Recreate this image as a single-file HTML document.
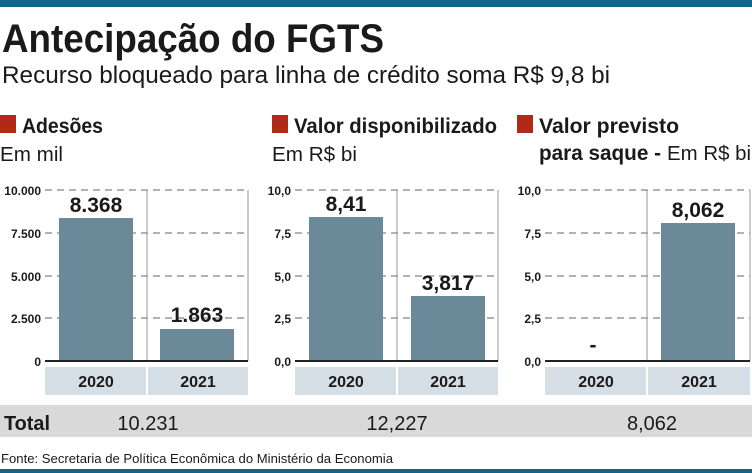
<!DOCTYPE html>
<html><head><meta charset="utf-8"><style>
html,body{margin:0;padding:0;background:#fff}
svg{display:block}
text{font-family:"Liberation Sans",sans-serif;fill:#1a1a1a}
.b{font-weight:bold}
</style></head><body>
<svg width="752" height="473" viewBox="0 0 752 473">
<rect x="0" y="0" width="752" height="7" fill="#0e6590"/>
<text x="2" y="52" class="b" font-size="40" textLength="382" lengthAdjust="spacingAndGlyphs">Antecipação do FGTS</text>
<text x="2" y="83" font-size="24" textLength="608" lengthAdjust="spacingAndGlyphs">Recurso bloqueado para linha de crédito soma R$ 9,8 bi</text>

<rect x="0" y="115" width="16" height="18" fill="#b02a17"/>
<text x="22" y="133" class="b" font-size="21" textLength="81" lengthAdjust="spacingAndGlyphs">Adesões</text>
<text x="0" y="161" font-size="20" textLength="63" lengthAdjust="spacingAndGlyphs">Em mil</text>
<rect x="272" y="115" width="16" height="18" fill="#b02a17"/>
<text x="294" y="133" class="b" font-size="21" textLength="203" lengthAdjust="spacingAndGlyphs">Valor disponibilizado</text>
<text x="272" y="161" font-size="20" textLength="85" lengthAdjust="spacingAndGlyphs">Em R$ bi</text>
<rect x="517" y="115" width="16" height="18" fill="#b02a17"/>
<text x="539" y="133" class="b" font-size="21" textLength="140" lengthAdjust="spacingAndGlyphs">Valor previsto</text>
<text x="539" y="160" class="b" font-size="21" textLength="122" lengthAdjust="spacingAndGlyphs">para saque -</text>
<text x="667" y="160" font-size="20" textLength="84" lengthAdjust="spacingAndGlyphs">Em R$ bi</text>

<g stroke="#999" stroke-width="1.5" stroke-dasharray="7,5" fill="none">
<line x1="45" y1="190" x2="248" y2="190"/><line x1="45" y1="233" x2="248" y2="233"/><line x1="45" y1="276" x2="248" y2="276"/><line x1="45" y1="318" x2="248" y2="318"/>
<line x1="295" y1="190" x2="498" y2="190"/><line x1="295" y1="233" x2="498" y2="233"/><line x1="295" y1="276" x2="498" y2="276"/><line x1="295" y1="318" x2="498" y2="318"/>
<line x1="545" y1="190" x2="750" y2="190"/><line x1="545" y1="233" x2="750" y2="233"/><line x1="545" y1="276" x2="750" y2="276"/><line x1="545" y1="318" x2="750" y2="318"/>
</g>
<g stroke="#999" stroke-width="1">
<line x1="147" y1="190" x2="147" y2="361"/><line x1="248" y1="190" x2="248" y2="361"/>
<line x1="397" y1="190" x2="397" y2="361"/><line x1="498" y1="190" x2="498" y2="361"/>
<line x1="647" y1="190" x2="647" y2="361"/><line x1="750" y1="190" x2="750" y2="361"/>
</g>
<g fill="#6b8a99">
<rect x="59" y="218" width="74" height="143"/><rect x="160" y="329" width="74" height="32"/>
<rect x="309" y="217" width="74" height="144"/><rect x="411" y="296" width="74" height="65"/>
<rect x="661" y="223" width="74" height="138"/>
</g>
<g stroke="#222" stroke-width="2">
<line x1="45" y1="361" x2="248" y2="361"/><line x1="295" y1="361" x2="498" y2="361"/><line x1="545" y1="361" x2="750" y2="361"/>
</g>
<g font-size="12" class="b" text-anchor="end">
<text x="41" y="195">10.000</text><text x="41" y="238">7.500</text><text x="41" y="281">5.000</text><text x="41" y="323">2.500</text><text x="41" y="366">0</text>
<text x="291" y="195">10,0</text><text x="291" y="238">7,5</text><text x="291" y="281">5,0</text><text x="291" y="323">2,5</text><text x="291" y="366">0,0</text>
<text x="541" y="195">10,0</text><text x="541" y="238">7,5</text><text x="541" y="281">5,0</text><text x="541" y="323">2,5</text><text x="541" y="366">0,0</text>
</g>
<g font-size="21" class="b" text-anchor="middle">
<text x="96" y="212">8.368</text><text x="197" y="322">1.863</text>
<text x="346" y="211">8,41</text><text x="448" y="290">3,817</text>
<text x="593" y="352">-</text><text x="698" y="217">8,062</text>
</g>
<g fill="#d6dee5">
<rect x="45" y="367" width="101" height="28"/><rect x="148" y="367" width="100" height="28"/>
<rect x="295" y="367" width="101" height="28"/><rect x="398" y="367" width="100" height="28"/>
<rect x="545" y="367" width="101" height="28"/><rect x="648" y="367" width="102" height="28"/>
</g>
<g font-size="16" class="b" text-anchor="middle">
<text x="96" y="387">2020</text><text x="198" y="387">2021</text>
<text x="346" y="387">2020</text><text x="448" y="387">2021</text>
<text x="596" y="387">2020</text><text x="699" y="387">2021</text>
</g>
<rect x="0" y="405" width="752" height="32" fill="#d9d9d9"/>
<text x="4" y="430" font-size="20" class="b" textLength="46" lengthAdjust="spacingAndGlyphs">Total</text>
<g font-size="20" text-anchor="middle" fill="#333">
<text x="148" y="430">10.231</text><text x="397" y="430">12,227</text><text x="652" y="430">8,062</text>
</g>
<text x="1" y="463" font-size="13" textLength="392" lengthAdjust="spacingAndGlyphs">Fonte: Secretaria de Política Econômica do Ministério da Economia</text>
<rect x="0" y="469" width="752" height="4" fill="#0e6590"/>
</svg>
</body></html>
